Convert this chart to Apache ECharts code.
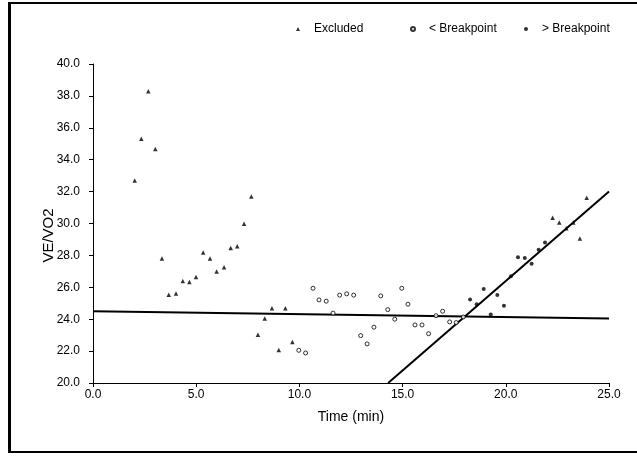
<!DOCTYPE html>
<html><head><meta charset="utf-8">
<script src="https://cdn.jsdelivr.net/npm/echarts@6/dist/echarts.min.js"></script>
<style>html,body{margin:0;padding:0;background:#fff}#c{width:637px;height:456px}</style>
</head><body><div id="c"></div>
<script>
const excludedT = [2.02,2.34,2.68,3.02,3.34,3.67,4.02,4.35,4.67,4.99,5.34,5.67,5.99,6.35,6.67,6.99,7.32,7.67,7.99,8.32,8.67,9.00,9.32,9.66,22.27,22.59,22.93,23.27,23.59,23.92];
const excludedV = [32.70,35.32,38.29,34.67,27.80,25.54,25.61,26.40,26.34,26.65,28.18,27.80,26.99,27.26,28.47,28.58,29.98,31.70,23.03,24.04,24.69,22.07,24.69,22.57,30.36,30.06,29.71,30.06,29.06,31.61];
const belowT = [9.97,10.30,10.66,10.95,11.30,11.63,11.95,12.29,12.63,12.97,13.28,13.61,13.94,14.28,14.62,14.96,15.26,15.60,15.94,16.26,16.62,16.94,17.28,17.60,17.94];
const belowV = [22.05,21.88,25.94,25.21,25.13,24.38,25.51,25.59,25.51,22.97,22.45,23.50,25.46,24.60,24.00,25.94,24.94,23.64,23.64,23.09,24.22,24.50,23.83,23.79,24.14];
const aboveT = [18.27,18.59,18.93,19.27,19.59,19.91,20.25,20.59,20.92,21.25,21.59,21.90];
const aboveV = [25.23,24.94,25.90,24.29,25.52,24.85,26.70,27.89,27.83,27.47,28.35,28.81];
const fitBelowT = [0, 25];
const fitBelowV = [24.5, 24.05];
const fitAboveT = [14.3, 25];
const fitAboveV = [20, 32];
const seriesNames = ['Excluded', '< Breakpoint', '> Breakpoint'];
const xTitle = 'Time (min)';
const yTitle = 'VE/VO2';

const zip = (a, b) => a.map((v, i) => [v, b[i]]);
const FONT = 'Liberation Sans, Arial, sans-serif';
const chart = echarts.init(document.getElementById('c'), null, {renderer: 'canvas'});
const legendBase = (name, left) => ({
  data: [name], left: left, top: 23, itemWidth: 4, itemHeight: 4, itemGap: 0,
  padding: 0, textStyle: {fontFamily: FONT, fontSize: 12, color: '#000', padding: [0,0,0,9]},
  selectedMode: false
});
chart.setOption({
  animation: false,
  backgroundColor: '#fff',
  grid: {left: 93, right: 28, top: 64, bottom: 73, containLabel: false},
  legend: [legendBase(seriesNames[0], 296), legendBase(seriesNames[1], 410), legendBase(seriesNames[2], 524)],
  xAxis: {
    type: 'value', min: 0, max: 25, interval: 5,
    name: xTitle, nameLocation: 'middle', nameGap: 27, nameMoveOverlap: false,
    nameTextStyle: {fontFamily: FONT, fontSize: 14, color: '#000'},
    axisLine: {lineStyle: {color: '#000', width: 1}},
    axisTick: {show: true, length: 4, lineStyle: {color: '#000'}},
    axisLabel: {fontFamily: FONT, fontSize: 12, color: '#000', margin: 6, formatter: v => v.toFixed(1)},
    splitLine: {show: false}
  },
  yAxis: {
    type: 'value', min: 20, max: 40, interval: 2,
    name: yTitle, nameLocation: 'middle', nameGap: 37, nameRotate: 90, nameMoveOverlap: false,
    nameTextStyle: {fontFamily: FONT, fontSize: 15, color: '#000', padding: [0, 24, 0, 0]},
    axisLine: {show: true, lineStyle: {color: '#000', width: 1}},
    axisTick: {show: true, length: 4, lineStyle: {color: '#000'}},
    axisLabel: {fontFamily: FONT, fontSize: 12, color: '#000', margin: 13, formatter: v => v.toFixed(1)},
    splitLine: {show: false}
  },
  series: [
    {name: seriesNames[0], type: 'scatter', symbol: 'triangle', symbolSize: 4.5,
     itemStyle: {color: '#000'}, data: zip(excludedT, excludedV)},
    {name: seriesNames[1], type: 'scatter', symbol: 'circle', symbolSize: 4,
     itemStyle: {color: '#fff', borderColor: '#000', borderWidth: 1}, data: zip(belowT, belowV)},
    {name: seriesNames[2], type: 'scatter', symbol: 'circle', symbolSize: 4,
     itemStyle: {color: '#000'}, data: zip(aboveT, aboveV)},
    {type: 'line', symbol: 'none', silent: true, lineStyle: {color: '#000', width: 2},
     data: zip(fitBelowT, fitBelowV), z: 1},
    {type: 'line', symbol: 'none', silent: true, lineStyle: {color: '#000', width: 2},
     data: zip(fitAboveT, fitAboveV), z: 1}
  ],
  graphic: [
    {type: 'rect', shape: {x: 8, y: 2, width: 3, height: 451}, style: {fill: '#000'}},
    {type: 'rect', shape: {x: 8, y: 2, width: 629, height: 2}, style: {fill: '#000'}},
    {type: 'rect', shape: {x: 8, y: 451, width: 629, height: 2}, style: {fill: '#000'}}
  ]
});
</script></body></html>
